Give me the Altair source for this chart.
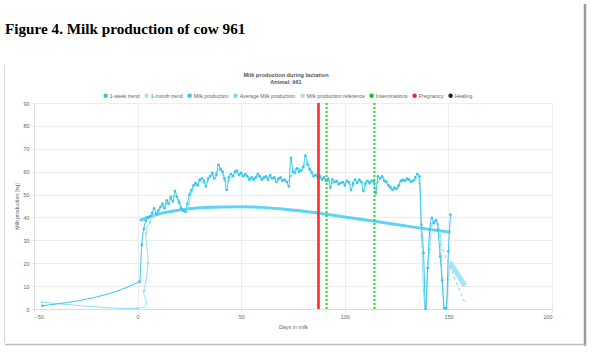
import altair as alt
import pandas as pd

# ---------------- data ----------------
milk_days = [-46] + list(range(1, 152))
milk_vals = [1.4,
    12, 28, 35, 38.5, 40, 40.5, 42, 44, 41.5, 43,
    44.5, 46, 44, 47.5, 46, 49, 47, 51.5, 49, 46.5,
    44, 43, 42.5, 46, 50, 52, 54, 55, 54, 56.5,
    57, 56, 53.5, 57, 58, 59.5, 57, 58.5, 63, 61,
    60, 57, 52, 57.5, 59, 58, 60, 60.5, 58.5, 59.5,
    58, 59, 58, 56.5, 57.5, 56.5, 57.5, 59, 58, 56.5,
    57.5, 58, 56.5, 58.5, 57, 57.5, 55.5, 57, 57.5, 56,
    56.5, 55.5, 53.5, 66, 60, 59.5, 61.5, 60, 60.5, 62,
    67, 63, 61, 59.5, 58, 58.5, 57.5, 58, 56.5, 57.5,
    56, 57, 53, 56.5, 55.5, 56, 54.5, 55, 55.5, 54,
    56, 55.5, 52, 55, 56.5, 55, 56.5, 55.5, 51.5, 55,
    56, 55, 56, 56, 50.5, 58, 57, 58, 56, 55.5,
    54, 53, 52, 53, 52.5, 54, 56, 56.5, 56, 57,
    56.5, 55.5, 56, 57.5, 59, 58, 36.8, 24.5, 0, 17.9,
    34.6, 39.8, 37.6, 38.7, 34.6, 23, 12.4, 0.4, 0.4, 25.2,
    41.2]

week_days = [-46, 0, 3, 5, 4, 6, 8, 10, 12, 14, 16, 18, 20, 22, 24, 26, 28, 30,
             32, 34, 36, 38, 40, 42, 44, 46, 48, 50, 52, 54, 56, 58, 60, 62, 64,
             66, 68, 70, 72, 74, 76, 78, 80, 82, 84, 86, 88, 90, 92, 94, 96, 98,
             100, 102, 104, 106, 108, 110, 112, 114, 116, 118, 120, 122, 124, 126,
             128, 130, 132, 134, 136, 137, 138, 139, 140, 141, 142, 143, 144, 145,
             146, 147, 148, 149, 150, 151]
week_vals = [3, 0.3, 8, 20, 33, 38, 41, 43, 45, 46, 48, 49.5, 47.5, 43, 43, 51,
             54.5, 56, 55, 56, 58.5, 59.5, 61.5, 56, 56, 58.5, 59.5, 59, 58.5, 57,
             57, 58, 57, 57.5, 57.5, 57, 56.5, 56.5, 55.5, 58, 61, 61, 62.5, 64,
             60, 58.5, 57.5, 57, 56, 55, 55.5, 55, 55, 55, 54, 55.5, 55.5, 54,
             55.5, 55, 55.5, 57.5, 56, 53.5, 52.5, 53.5, 56, 56.5, 56, 56.5, 55,
             32, 8, 0, 18, 26, 37, 38, 39, 37, 32, 13, 0, 0, 12.8, 20.3]

ref_days = [1, 10, 20, 30, 40, 50, 60, 70, 80, 90, 100, 110, 120, 130, 140, 151]
ref_vals = [38.7, 41.5, 43.2, 44.2, 44.6, 44.7, 44.4, 43.7, 42.7, 41.5, 40.2,
            38.9, 37.6, 36.2, 34.9, 33.5]

month_days = [151, 158]
month_vals = [20, 10.2]

forecast_days = [145, 158]
forecast_vals = [31, 2.6]

pregnancy_days = [87.3]
insemination_days = [91.2, 114.3]

legend_names = ["1-week trend", "1-month trend", "Milk production",
                "Average Milk production", "Milk production reference",
                "Inseminations", "Pregnancy", "Healing"]
legend_colors = ["#2ec4ee", "#a6e6f8", "#36c6ec", "#7fd8f2", "#9fe2f6",
                 "#1fbf1f", "#ff2020", "#222222"]

x_ticks = [-50, 0, 50, 100, 150, 200]
y_ticks = list(range(0, 91, 10))

# ---------------- layout ----------------
W, H = 518, 206
PL, PT = 34, 103
FONT = "Liberation Sans"

xs = alt.Scale(domain=[-50, 200], nice=False, zero=False)
ys = alt.Scale(domain=[0, 90], nice=False)
AX = dict(grid=True, gridColor="#ececec", gridWidth=1, domainColor="#dcdcdc",
          tickColor="#e2e2e2", tickSize=3, labelFontSize=5.4, labelColor="#666666",
          labelFont=FONT, titleFontSize=5.4, titleColor="#666666", titleFont=FONT,
          titleFontWeight="normal", labelPadding=2)
xax = alt.Axis(values=x_ticks, title="Days in milk", titlePadding=5, **AX)
yax = alt.Axis(values=y_ticks, title="Milk production [kg]", titlePadding=4, **AX)

def X():
    return alt.X("day:Q", scale=xs, axis=xax)

def Y():
    return alt.Y("val:Q", scale=ys, axis=yax)

milk_df = pd.DataFrame({"day": milk_days, "val": milk_vals})
week_df = pd.DataFrame({"day": week_days, "val": week_vals,
                        "idx": list(range(len(week_days)))})
ref_df = pd.DataFrame({"day": ref_days, "val": ref_vals})
month_df = pd.DataFrame({"day": month_days, "val": month_vals})
fc_df = pd.DataFrame({"day": forecast_days, "val": forecast_vals})
preg_df = pd.DataFrame({"day": pregnancy_days})
ins_df = pd.DataFrame({"day": insemination_days})
leg_df = pd.DataFrame({"day": [-100] * len(legend_names), "val": [0] * len(legend_names),
                       "series": legend_names})
one = pd.DataFrame({"k": [0]})

ref_line = alt.Chart(ref_df).mark_line(color="#5fd4f1", strokeWidth=3,
                                       interpolate="monotone").encode(x=X(), y=Y())

week_line = alt.Chart(week_df).mark_line(color="#8fdff5", strokeWidth=1,
                                         interpolate="cardinal", clip=True).encode(
    x=X(), y=Y(), order="idx:Q")
week_pts = alt.Chart(week_df).mark_circle(color="#8fdff5", size=6, opacity=1).encode(x=X(), y=Y())

milk_line = alt.Chart(milk_df).mark_line(color="#36c6ec", strokeWidth=1,
                                         interpolate="monotone", clip=True).encode(x=X(), y=Y())
milk_pts = alt.Chart(milk_df).mark_circle(color="#36c6ec", size=7, opacity=1).encode(x=X(), y=Y())

month_line = alt.Chart(month_df).mark_line(color="#a6e6f8", strokeWidth=5).encode(x=X(), y=Y())
fc_line = alt.Chart(fc_df).mark_line(color="#8fdcf3", strokeWidth=1.2,
                                     strokeDash=[3, 3]).encode(x=X(), y=Y())

preg_rule = alt.Chart(preg_df).mark_rule(color="#ff2b2b", strokeWidth=2.6).encode(x=X())
ins_rule = alt.Chart(ins_df).mark_rule(color="#2ed12e", strokeWidth=2,
                                       strokeDash=[2, 2]).encode(x=X())

legend_layer = alt.Chart(leg_df).mark_circle(clip=True, size=20, opacity=1).encode(
    x=X(), y=Y(),
    color=alt.Color("series:N",
                    scale=alt.Scale(domain=legend_names, range=legend_colors),
                    legend=alt.Legend(orient="none", legendX=69, legendY=-10,
                                      direction="horizontal", columns=8, title=None,
                                      symbolType="circle", symbolSize=20,
                                      symbolStrokeWidth=0, symbolOpacity=1,
                                      labelFontSize=5.2, labelColor="#666666",
                                      labelFont=FONT, labelOffset=1.5,
                                      columnPadding=4, padding=0)))

fig_title = alt.Chart(one).mark_text(text="Figure 4. Milk production of cow 961",
                                     font="Liberation Serif", fontWeight="bold",
                                     fontSize=15.2, align="left", baseline="alphabetic",
                                     color="#000000").encode(
    x=alt.value(5 - PL), y=alt.value(34 - PT))
t1 = alt.Chart(one).mark_text(text="Milk production during lactation", font=FONT,
                              fontWeight="bold", fontSize=5.6, color="#555555",
                              align="center", baseline="middle").encode(
    x=alt.value(286 - PL), y=alt.value(75 - PT))
t2 = alt.Chart(one).mark_text(text="Animal: 961", font=FONT,
                              fontWeight="bold", fontSize=5.6, color="#555555",
                              align="center", baseline="middle").encode(
    x=alt.value(286 - PL), y=alt.value(82 - PT))

frame_left = alt.Chart(one).mark_rule(color="#d8d8d8", strokeWidth=1).encode(
    x=alt.value(4.5 - PL), y=alt.value(65 - PT), y2=alt.value(343 - PT))
frame_right = alt.Chart(one).mark_rule(color="#9a9a9a", strokeWidth=2.5).encode(
    x=alt.value(585 - PL), y=alt.value(4 - PT), y2=alt.value(346 - PT))
frame_bottom = alt.Chart(one).mark_rule(color="#bdbdbd", strokeWidth=1.5).encode(
    x=alt.value(5 - PL), x2=alt.value(586 - PL), y=alt.value(344.5 - PT))

chart = alt.layer(
    ref_line, week_line, week_pts, milk_line, milk_pts, month_line, fc_line,
    preg_rule, ins_rule, legend_layer, fig_title, t1, t2,
    frame_left, frame_right, frame_bottom
).properties(
    width=W, height=H,
    background="white",
    autosize=alt.AutoSizeParams(type="none"),
    padding={"left": PL, "top": PT, "right": 594 - PL - W, "bottom": 352 - PT - H},
).configure_view(stroke=None)

chart.save("out.html", embed_options={"renderer": "svg", "actions": False})
